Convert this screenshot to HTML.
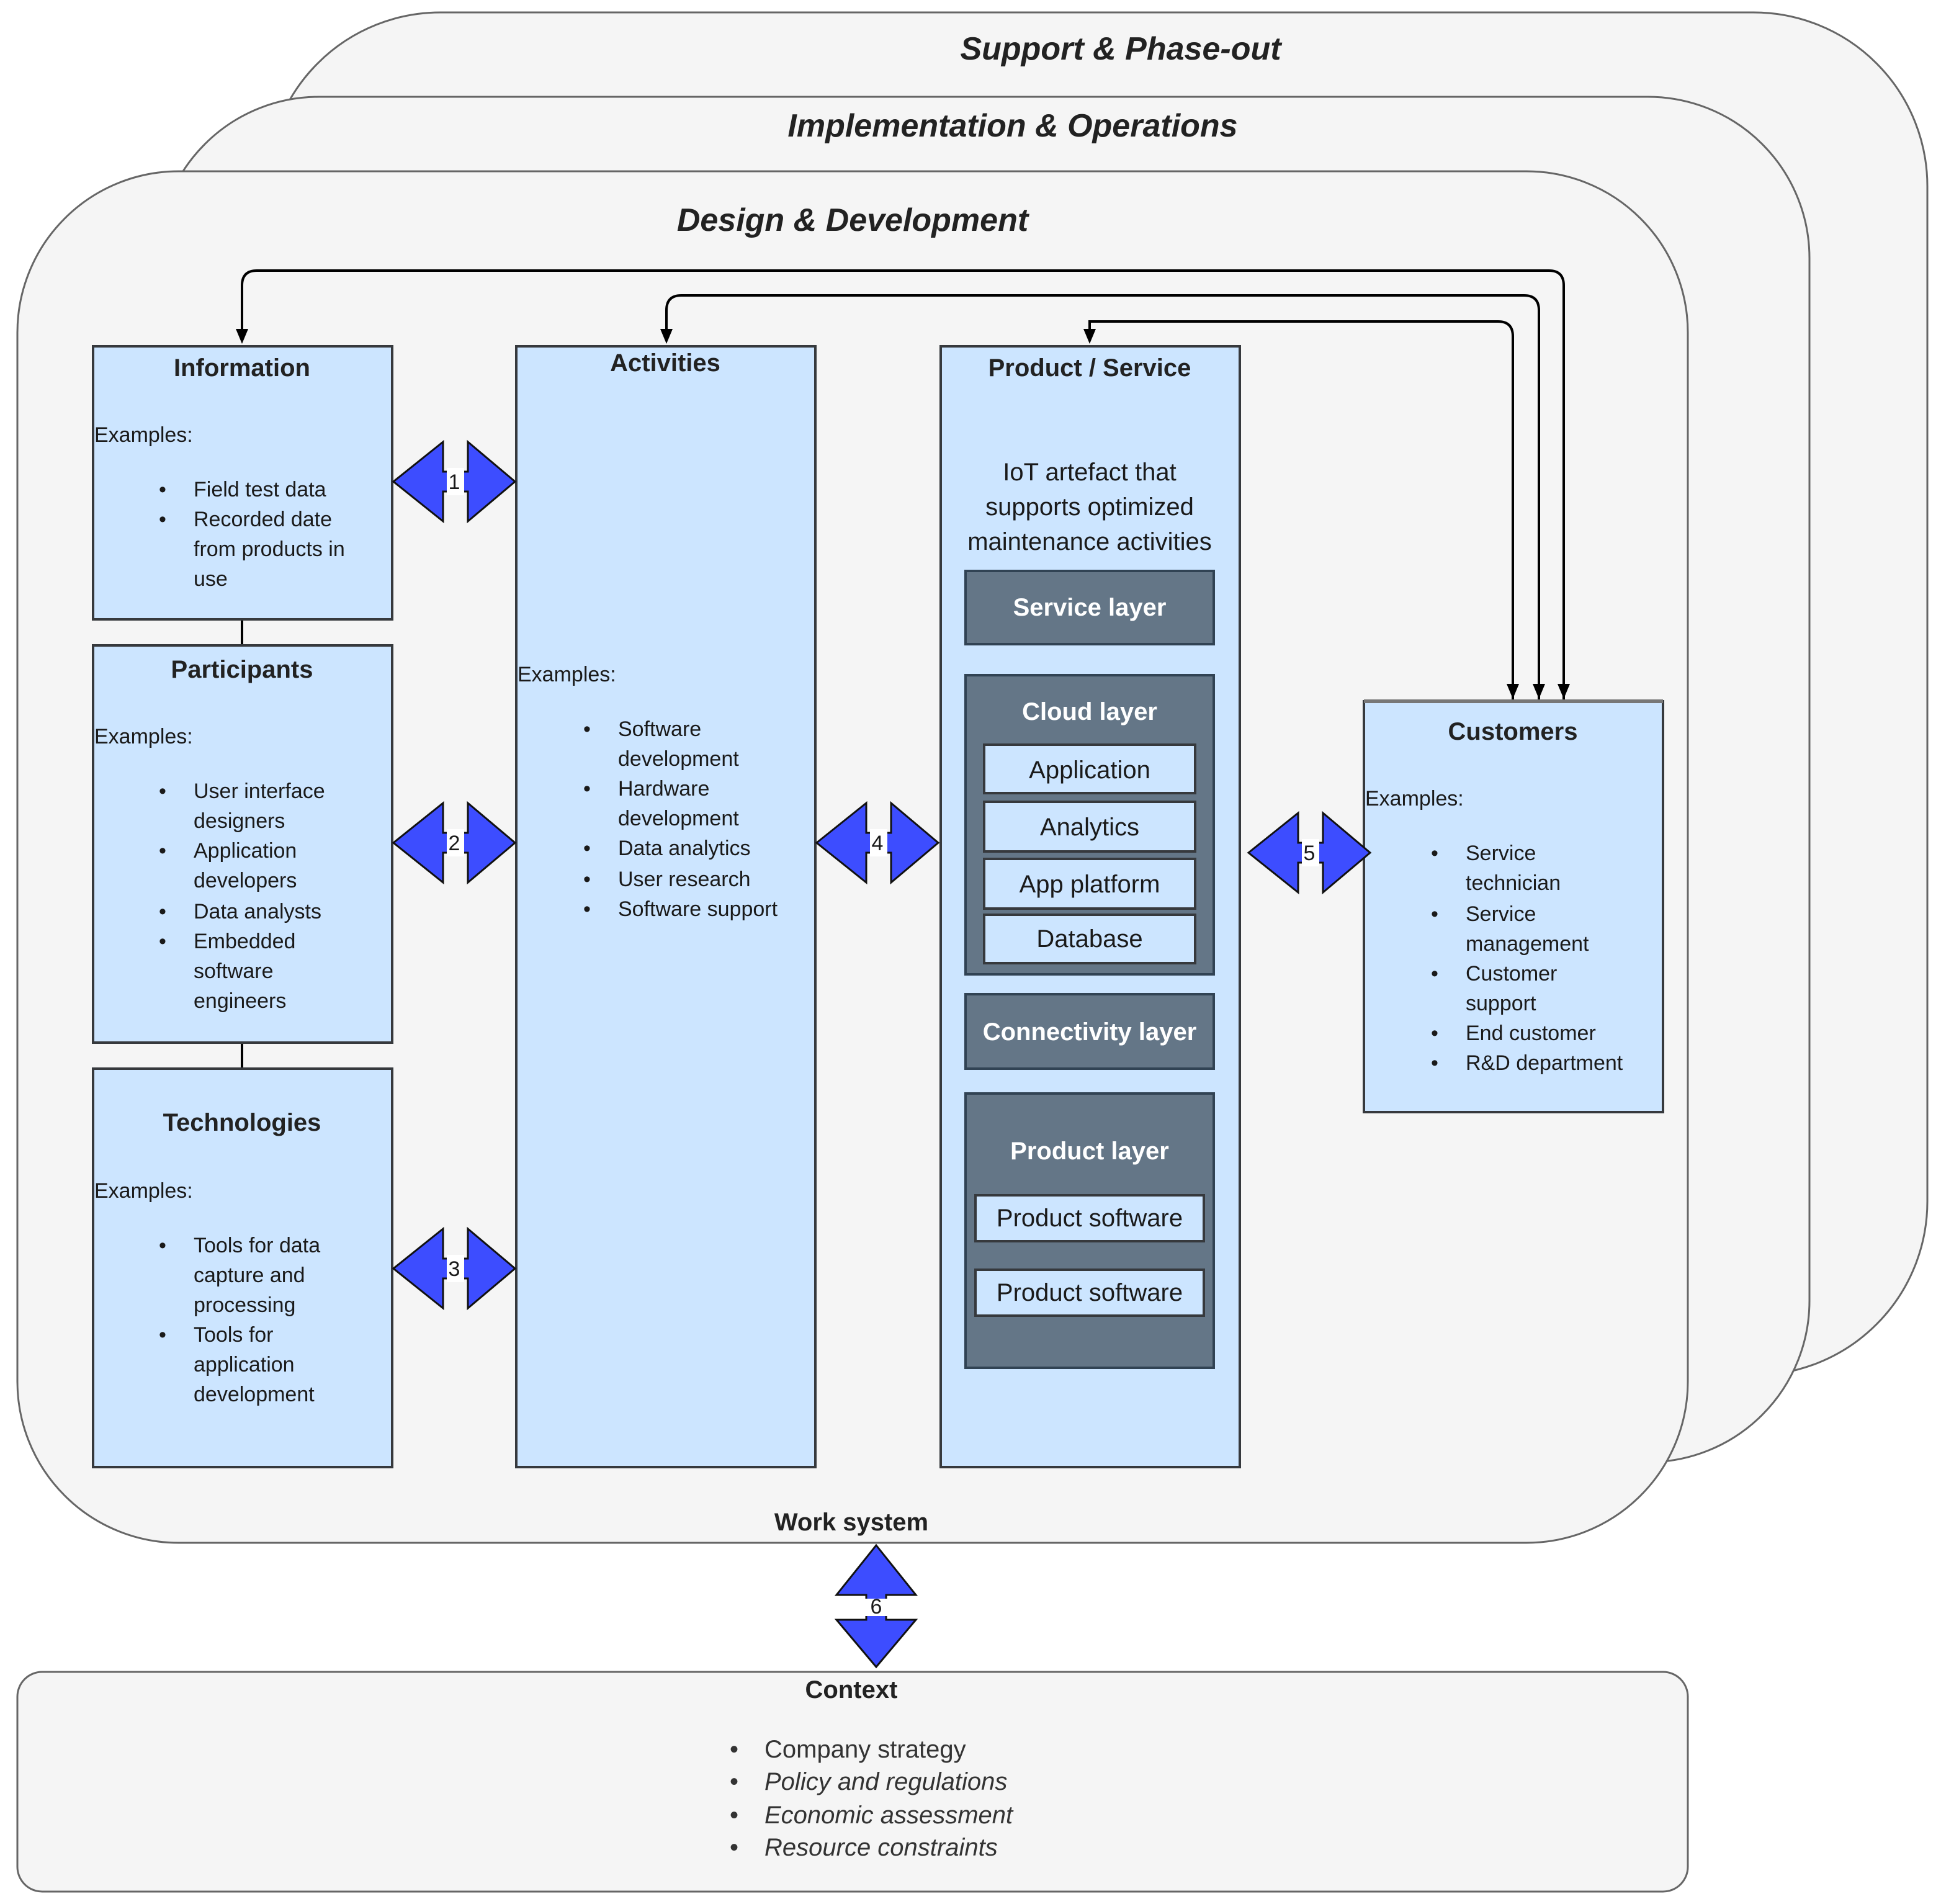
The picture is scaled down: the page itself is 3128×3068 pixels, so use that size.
<!DOCTYPE html>
<html><head><meta charset="utf-8"><style>
html,body{margin:0;padding:0;background:#fff;}
svg{display:block;}
text{font-family:"Liberation Sans",Arial,sans-serif;fill:#1a1a1a;}
.t{font-size:20px;text-anchor:middle;font-weight:bold;fill:#222;}
.b{font-size:17px;}
.w{fill:#fff;font-size:20px;text-anchor:middle;font-weight:bold;}
.c{font-size:20px;text-anchor:middle;}
.h{font-size:26px;font-style:italic;text-anchor:middle;font-weight:bold;fill:#222;}
.box{fill:#cce5ff;stroke:#36393d;stroke-width:2;}
.dk{fill:#647687;stroke:#314354;stroke-width:2;}
.lt{fill:#cce5ff;stroke:#36393d;stroke-width:2;}
.ar{fill:#3d4dff;stroke:#111;stroke-width:1.5;}
.ln{fill:none;stroke:#000;stroke-width:2;}
</style></head><body>
<svg width="3128" height="3068" viewBox="0 0 1564 1534" xmlns="http://www.w3.org/2000/svg">
<rect x="215" y="10" width="1338" height="1098" rx="140" fill="#f5f5f5" stroke="#666" stroke-width="1.5"/>
<text class="h" x="903" y="48">Support &amp; Phase-out</text>
<rect x="127" y="78" width="1331" height="1100" rx="130" fill="#f5f5f5" stroke="#666" stroke-width="1.5"/>
<text class="h" x="816" y="110">Implementation &amp; Operations</text>
<rect x="14" y="138" width="1346" height="1105" rx="130" fill="#f5f5f5" stroke="#666" stroke-width="1.5"/>
<text class="h" x="687" y="186">Design &amp; Development</text>

<path class="ln" d="M1260,565 V230 Q1260,218 1248,218 H207 Q195,218 195,230 V270"/>
<path d="M190,265 L200,265 L195,277 Z" fill="#000"/>
<path class="ln" d="M1240,565 V250 Q1240,238 1228,238 H549 Q537,238 537,250 V270"/>
<path d="M532,265 L542,265 L537,277 Z" fill="#000"/>
<path class="ln" d="M1219,565 V271 Q1219,259 1207,259 H878 V270"/>
<path d="M873,265 L883,265 L878,277 Z" fill="#000"/>
<path d="M1214,551 L1224,551 L1219,563 Z M1235,551 L1245,551 L1240,563 Z M1255,551 L1265,551 L1260,563 Z" fill="#000"/>
<line class="ln" x1="195" y1="499" x2="195" y2="520"/>
<line class="ln" x1="195" y1="840" x2="195" y2="861"/>

<rect class="box" x="75" y="279" width="241" height="220"/>
<text class="t" x="195" y="303">Information</text>
<text class="b" x="76" y="356">Examples:</text>
<text class="b"><tspan x="128" y="400">•</tspan><tspan x="156" y="400">Field test data</tspan><tspan x="128" y="424">•</tspan><tspan x="156" y="424">Recorded date</tspan><tspan x="156" y="448">from products in</tspan><tspan x="156" y="472">use</tspan></text>

<rect class="box" x="75" y="520" width="241" height="320"/>
<text class="t" x="195" y="546">Participants</text>
<text class="b" x="76" y="599">Examples:</text>
<text class="b"><tspan x="128" y="643">•</tspan><tspan x="156" y="643">User interface</tspan><tspan x="156" y="667">designers</tspan><tspan x="128" y="691">•</tspan><tspan x="156" y="691">Application</tspan><tspan x="156" y="715">developers</tspan><tspan x="128" y="740">•</tspan><tspan x="156" y="740">Data analysts</tspan><tspan x="128" y="764">•</tspan><tspan x="156" y="764">Embedded</tspan><tspan x="156" y="788">software</tspan><tspan x="156" y="812">engineers</tspan></text>

<rect class="box" x="75" y="861" width="241" height="321"/>
<text class="t" x="195" y="911">Technologies</text>
<text class="b" x="76" y="965">Examples:</text>
<text class="b"><tspan x="128" y="1009">•</tspan><tspan x="156" y="1009">Tools for data</tspan><tspan x="156" y="1033">capture and</tspan><tspan x="156" y="1057">processing</tspan><tspan x="128" y="1081">•</tspan><tspan x="156" y="1081">Tools for</tspan><tspan x="156" y="1105">application</tspan><tspan x="156" y="1129">development</tspan></text>

<rect class="box" x="416" y="279" width="241" height="903"/>
<text class="t" x="536" y="299">Activities</text>
<text class="b" x="417" y="549">Examples:</text>
<text class="b"><tspan x="470" y="593">•</tspan><tspan x="498" y="593">Software</tspan><tspan x="498" y="617">development</tspan><tspan x="470" y="641">•</tspan><tspan x="498" y="641">Hardware</tspan><tspan x="498" y="665">development</tspan><tspan x="470" y="689">•</tspan><tspan x="498" y="689">Data analytics</tspan><tspan x="470" y="714">•</tspan><tspan x="498" y="714">User research</tspan><tspan x="470" y="738">•</tspan><tspan x="498" y="738">Software support</tspan></text>

<rect class="box" x="758" y="279" width="241" height="903"/>
<text class="t" x="878" y="303">Product / Service</text>
<text class="c"><tspan x="878" y="387">IoT artefact that</tspan><tspan x="878" y="415">supports optimized</tspan><tspan x="878" y="443">maintenance activities</tspan></text>
<rect class="dk" x="778" y="460" width="200" height="59"/>
<text class="w" x="878" y="496">Service layer</text>
<rect class="dk" x="778" y="544" width="200" height="241"/>
<text class="w" x="878" y="580">Cloud layer</text>
<rect class="lt" x="793" y="600" width="170" height="39"/><text class="c" x="878" y="627">Application</text>
<rect class="lt" x="793" y="646" width="170" height="40"/><text class="c" x="878" y="673">Analytics</text>
<rect class="lt" x="793" y="692" width="170" height="40"/><text class="c" x="878" y="719">App platform</text>
<rect class="lt" x="793" y="737" width="170" height="39"/><text class="c" x="878" y="763">Database</text>
<rect class="dk" x="778" y="801" width="200" height="60"/>
<text class="w" x="878" y="838">Connectivity layer</text>
<rect class="dk" x="778" y="881" width="200" height="221"/>
<text class="w" x="878" y="934">Product layer</text>
<rect class="lt" x="786" y="963" width="184" height="37"/><text class="c" x="878" y="988">Product software</text>
<rect class="lt" x="786" y="1023" width="184" height="37"/><text class="c" x="878" y="1048">Product software</text>

<rect class="box" x="1099" y="565" width="241" height="331"/>
<line x1="1099" y1="565" x2="1340" y2="565" stroke="#777" stroke-width="3"/>
<text class="t" x="1219" y="596">Customers</text>
<text class="b" x="1100" y="649">Examples:</text>
<text class="b"><tspan x="1153" y="693">•</tspan><tspan x="1181" y="693">Service</tspan><tspan x="1181" y="717">technician</tspan><tspan x="1153" y="742">•</tspan><tspan x="1181" y="742">Service</tspan><tspan x="1181" y="766">management</tspan><tspan x="1153" y="790">•</tspan><tspan x="1181" y="790">Customer</tspan><tspan x="1181" y="814">support</tspan><tspan x="1153" y="838">•</tspan><tspan x="1181" y="838">End customer</tspan><tspan x="1153" y="862">•</tspan><tspan x="1181" y="862">R&amp;D department</tspan></text>

<g transform="translate(317,388)"><path class="ar" d="M0,0 L40,-32 L40,-8 L60,-8 L60,-32 L98,0 L60,32 L60,8 L40,8 L40,32 Z"/><rect x="43" y="-11" width="14" height="22" fill="#fff"/></g>
<text class="b" x="366" y="394" text-anchor="middle">1</text>
<g transform="translate(317,679)"><path class="ar" d="M0,0 L40,-32 L40,-8 L60,-8 L60,-32 L98,0 L60,32 L60,8 L40,8 L40,32 Z"/><rect x="43" y="-11" width="14" height="22" fill="#fff"/></g>
<text class="b" x="366" y="685" text-anchor="middle">2</text>
<g transform="translate(317,1022)"><path class="ar" d="M0,0 L40,-32 L40,-8 L60,-8 L60,-32 L98,0 L60,32 L60,8 L40,8 L40,32 Z"/><rect x="43" y="-11" width="14" height="22" fill="#fff"/></g>
<text class="b" x="366" y="1028" text-anchor="middle">3</text>
<g transform="translate(658,679)"><path class="ar" d="M0,0 L40,-32 L40,-8 L60,-8 L60,-32 L98,0 L60,32 L60,8 L40,8 L40,32 Z"/><rect x="43" y="-11" width="14" height="22" fill="#fff"/></g>
<text class="b" x="707" y="685" text-anchor="middle">4</text>
<g transform="translate(1006,687)"><path class="ar" d="M0,0 L40,-32 L40,-8 L60,-8 L60,-32 L98,0 L60,32 L60,8 L40,8 L40,32 Z"/><rect x="43" y="-11" width="14" height="22" fill="#fff"/></g>
<text class="b" x="1055" y="693" text-anchor="middle">5</text>
<g transform="translate(706,1245) rotate(90)"><path class="ar" d="M0,0 L40,-32 L40,-8 L60,-8 L60,-32 L98,0 L60,32 L60,8 L40,8 L40,32 Z"/><rect x="43" y="-11" width="14" height="22" fill="#fff"/></g>
<text class="b" x="706" y="1300" text-anchor="middle">6</text>

<text class="t" x="686" y="1233">Work system</text>

<rect x="14" y="1347" width="1346" height="177" rx="20" fill="#f5f5f5" stroke="#666" stroke-width="1.5"/>
<text class="t" x="686" y="1368">Context</text>
<text style="font-size:20px;fill:#333"><tspan x="588" y="1416">•</tspan><tspan x="616" y="1416">Company strategy</tspan></text>
<text style="font-size:20px;fill:#333;font-style:italic"><tspan x="588" y="1442" style="font-style:normal">•</tspan><tspan x="616" y="1442">Policy and regulations</tspan><tspan x="588" y="1469" style="font-style:normal">•</tspan><tspan x="616" y="1469">Economic assessment</tspan><tspan x="588" y="1495" style="font-style:normal">•</tspan><tspan x="616" y="1495">Resource constraints</tspan></text>
</svg>
</body></html>
